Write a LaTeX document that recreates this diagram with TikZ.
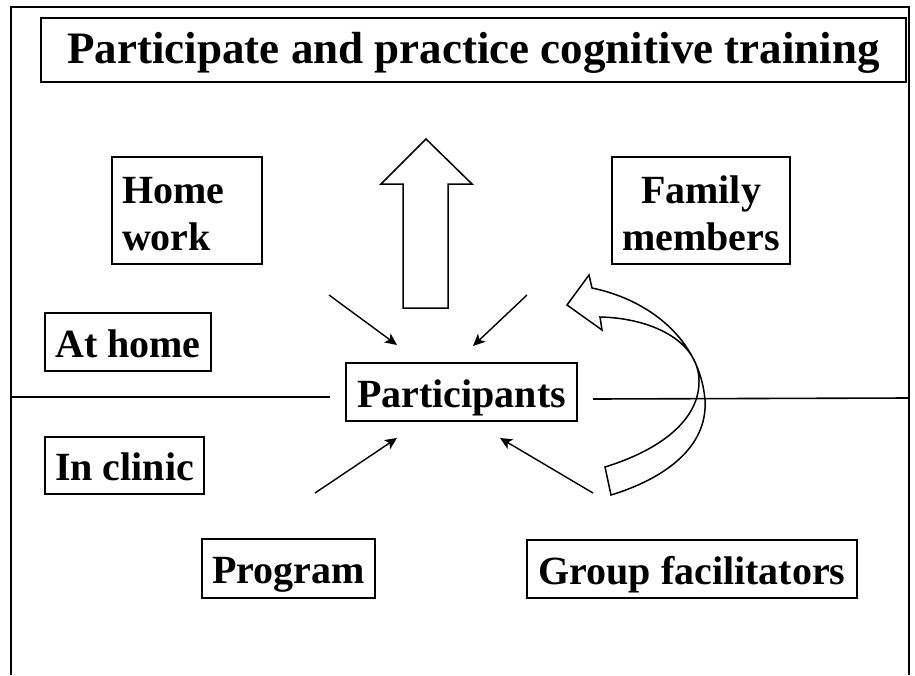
\documentclass[tikz,border=0pt]{standalone}
\usepackage{fontspec}
\setmainfont{Liberation Serif}
\usepackage{tikz}
\usetikzlibrary{arrows.meta}
\tikzstyle{box}=[draw, line width=2pt, inner sep=0pt, font=\fontsize{40}{47}\selectfont\bfseries, text height=30pt, text depth=0pt]
\tikzstyle{twobox}=[box, inner xsep=10pt, text height=30pt, text depth=44pt]
\tikzstyle{titlebox}=[box, font=\fontsize{45}{52}\selectfont\bfseries, text height=26pt]
\tikzstyle{feed}=[line width=1.4pt, -{Stealth[length=12pt, width=11pt, inset=3pt]}]
\tikzstyle{bigarrow}=[line width=1.5pt, line join=miter]
\tikzstyle{frame}=[line width=1.2pt]

\begin{document}
\begin{tikzpicture}[x=1pt, y=-1pt]
    \useasboundingbox (0,0) rectangle (915,675);
    \draw[frame] (11,675) -- (11,7) -- (909,7) -- (909,675);
    \node[titlebox, minimum width=865pt, minimum height=64pt] (goal) at (473.5,50) {Participate and practice cognitive training};
    \node[twobox, text width=130pt, align=left, minimum height=107pt] (homework) at (187,210.5) {Home\\work};
    \node[twobox, text width=158pt, align=center, minimum height=107pt] (family) at (701,210.5) {Family\\members};
    \node[box, minimum width=166pt, minimum height=58pt] (athome) at (128,342) {At home};
    \node[box, minimum width=231pt, minimum height=58pt] (part) at (461.5,392) {Participants};
    \node[box, minimum width=159pt, minimum height=57pt] (clinic) at (124.5,465.5) {In clinic};
    \node[box, minimum width=173pt, minimum height=59pt] (program) at (288.5,568.5) {Program};
    \node[box, minimum width=330pt, minimum height=58pt] (facil) at (692,569) {Group facilitators};
    % home / clinic divider
    \draw[line width=1.6pt] (11,397) -- (330,397);
    \draw[line width=1.6pt] (593,399) -- (909,398);
    % arrows into the participants
    \coordinate (hw) at (329,295);
    \coordinate (hwin) at (397,345);
    \coordinate (fm) at (527,295);
    \coordinate (fmin) at (473,346);
    \coordinate (pg) at (315,493);
    \coordinate (pgin) at (397,438);
    \coordinate (gf) at (593,493);
    \coordinate (gfin) at (500,438);
    \foreach \from/\to in {hw/hwin, fm/fmin, pg/pgin, gf/gfin}
      \draw[feed] (\from) -- (\to);
    % block arrows
    \draw[bigarrow] (403,308) -- (403,184) -- (381,184) -- (426,139) -- (472,184) -- (448,184) -- (448,308) -- cycle;
    \draw[bigarrow] (567,305) -- (589,275) -- (592,288)
      .. controls (650,300) and (700,340) .. (705,400)
      .. controls (708,450) and (660,480) .. (611,495) -- (605,467)
      .. controls (660,450) and (700,420) .. (699,380)
      .. controls (698,340) and (650,318) .. (600,317) -- (602,330) -- cycle;
\end{tikzpicture}
\end{document}
